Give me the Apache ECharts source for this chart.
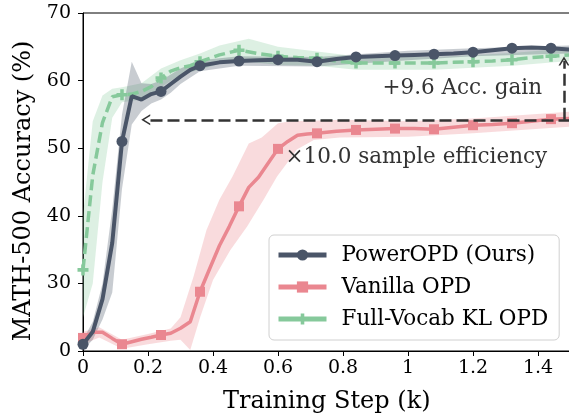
<!DOCTYPE html>
<html>
<head>
<meta charset="utf-8">
<script src="https://cdn.jsdelivr.net/npm/echarts@6/dist/echarts.min.js"></script>
<style>
  html, body { margin: 0; padding: 0; background: #fff; }
  #chart { width: 569px; height: 414px; }
</style>
</head>
<body>
<div id="chart"></div>
<script>
// training steps (k) and accuracies
var powerX = [0, 0.03, 0.06, 0.09, 0.12, 0.15, 0.18, 0.21, 0.24, 0.27, 0.30, 0.33, 0.36, 0.42, 0.48, 0.54, 0.60, 0.66, 0.72, 0.78, 0.84, 0.90, 0.96, 1.02, 1.08, 1.14, 1.20, 1.26, 1.32, 1.38, 1.44, 1.50];
var powerY = [3.0, 8.5, 23.0, 36.0, 51.0, 57.7, 57.2, 58.0, 58.4, 59.5, 60.6, 61.6, 62.2, 62.7, 62.9, 63.0, 63.1, 63.1, 62.8, 63.2, 63.5, 63.6, 63.7, 63.8, 63.9, 64.0, 64.2, 64.5, 64.8, 64.9, 64.8, 64.6];

var vanillaX = [0, 0.03, 0.06, 0.09, 0.12, 0.15, 0.18, 0.21, 0.24, 0.27, 0.30, 0.33, 0.36, 0.39, 0.42, 0.45, 0.48, 0.51, 0.54, 0.57, 0.60, 0.63, 0.66, 0.69, 0.72, 0.78, 0.84, 0.90, 0.96, 1.02, 1.08, 1.14, 1.20, 1.26, 1.32, 1.38, 1.44, 1.50];
var vanillaY = [5.8, 8.3, 8.3, 5.6, 3.0, 4.1, 5.2, 6.1, 7.1, 7.9, 10.1, 13.0, 26.3, 32.2, 35.6, 38.4, 41.4, 44.2, 45.7, 47.8, 49.9, 51.0, 51.9, 52.1, 52.2, 52.5, 52.7, 52.8, 52.9, 52.9, 52.8, 53.1, 53.4, 53.5, 53.7, 54.0, 54.3, 54.4];

var fullX = [0, 0.03, 0.06, 0.09, 0.12, 0.15, 0.18, 0.21, 0.24, 0.27, 0.30, 0.33, 0.36, 0.42, 0.48, 0.54, 0.60, 0.66, 0.72, 0.78, 0.84, 0.90, 0.96, 1.02, 1.08, 1.14, 1.20, 1.26, 1.32, 1.38, 1.44, 1.50];
var fullY = [32.0, 46.0, 53.8, 57.6, 57.9, 58.0, 58.4, 59.1, 60.4, 61.4, 61.9, 62.2, 62.8, 63.8, 64.5, 64.0, 63.6, 63.4, 63.3, 62.9, 62.6, 62.6, 62.6, 62.6, 62.6, 62.7, 62.8, 62.9, 63.1, 63.4, 63.6, 63.8];

// shaded spread around each curve
var powerBandX = [0, 0.03, 0.06, 0.09, 0.12, 0.15, 0.18, 0.21, 0.24, 0.27, 0.30, 0.36, 0.48, 0.72, 1.0, 1.2, 1.5];
var powerLo = [0.3, 5, 14, 26, 44, 53.5, 55.5, 56.6, 57.2, 58.2, 59.5, 61.4, 62.2, 62.1, 63.0, 63.6, 64.0];
var powerHi = [5, 13, 30, 41, 55, 62.8, 59.6, 59.5, 60.0, 60.9, 61.8, 63.0, 63.6, 63.5, 64.4, 64.8, 65.2];

var vanillaHiX = [0, 0.05, 0.12, 0.2, 0.27, 0.30, 0.34, 0.38, 0.42, 0.46, 0.51, 0.55, 0.60, 0.64, 0.8, 1.0, 1.2, 1.5];
var vanillaHi = [8.5, 10.5, 5.0, 7.5, 10.0, 15.0, 31.0, 37.9, 42.4, 45.8, 50.7, 51.6, 53.7, 54.0, 54.2, 54.0, 54.4, 55.4];
var vanillaLoX = [0, 0.05, 0.12, 0.2, 0.27, 0.30, 0.33, 0.361, 0.40, 0.453, 0.505, 0.556, 0.597, 0.628, 0.658, 0.71, 0.79, 1.0, 1.2, 1.5];
var vanillaLo = [3.0, 6.0, 1.0, 3.0, 4.5, 5.0, 0.4, 15.2, 30.5, 34.9, 38.4, 42.4, 45.8, 47.8, 49.8, 51.2, 51.6, 51.7, 52.2, 53.2];

var fullBandX = [0, 0.03, 0.06, 0.09, 0.12, 0.18, 0.24, 0.30, 0.36, 0.42, 0.51, 0.60, 0.72, 0.84, 1.08, 1.32, 1.5];
var fullLo = [15, 30, 45, 54.5, 56.8, 57.2, 59.0, 60.9, 61.6, 62.5, 62.8, 62.3, 62.2, 61.6, 61.6, 62.2, 62.9];
var fullHi = [40, 54, 57.8, 58.8, 59.0, 59.6, 61.8, 63.0, 64.0, 65.2, 66.2, 65.0, 64.3, 63.6, 63.5, 64.1, 64.8];

// y tick labels (axis is broken: 0, then 30..70)
var yTicks = [0, 30, 40, 50, 60, 70];

// annotations
var effArrow = { from: 1.5, to: 0.193, y: 54.2 };
var gainArrow = { x: 1.48, from: 54.2, to: 62.9 };
var gainLabel = { text: '+9.6 Acc. gain', x: 1.167, y: 58.9 };
var effLabel = { text: '\u00d710.0 sample efficiency', x: 0.623, y: 48.7 };

var NAVY = '#4a5568', PINK = '#ea8790', GREEN = '#86c99b';
var FONT = '"DejaVu Serif", serif';
var PLUS = 'path://M3.4,0 H6.6 V3.4 H10 V6.6 H6.6 V10 H3.4 V6.6 H0 V3.4 H3.4 Z';
var CHEVRON = 'path://M0,10 L5,0 L10,10 L8.4,10 L5,3.2 L1.6,10 Z';

// 0..30 squeezed into one tick step, above 30 linear
function tr(y) { return y < 30 ? y / 3 : y - 20; }
function isMark(x) { var k = x / 0.12; return Math.abs(k - Math.round(k)) < 1e-6; }

function lineData(xs, ys) {
  return xs.map(function (x, i) {
    var v = [x, tr(ys[i])];
    return isMark(x) ? v : { value: v, symbol: 'none' };
  });
}

function band(name, loX, lo, hiX, hi, fill) {
  return {
    type: 'custom', name: name, silent: true, z: 1, clip: true,
    data: [[0, 0]],
    renderItem: function (params, api) {
      var pts = [];
      for (var i = 0; i < hiX.length; i++) pts.push(api.coord([hiX[i], tr(hi[i])]));
      for (var j = loX.length - 1; j >= 0; j--) pts.push(api.coord([loX[j], tr(lo[j])]));
      return { type: 'polygon', shape: { points: pts }, style: { fill: fill } };
    }
  };
}

var mychart = echarts.init(document.getElementById('chart'), null, { renderer: 'canvas' });

var option = {
  animation: false,
  backgroundColor: '#fff',
  grid: {
    left: 83, top: 13, width: 487.5, height: 338,
    show: true, borderColor: '#000', borderWidth: 1,
    outerBoundsMode: 'none'
  },
  legend: {
    orient: 'vertical',
    left: 269, top: 235,
    padding: [9, 11, 10, 7],
    itemGap: 10,
    itemWidth: 48, itemHeight: 14,
    backgroundColor: 'rgba(255,255,255,0.85)',
    borderColor: '#d0d0d0', borderWidth: 1, borderRadius: 5,
    lineStyle: { width: 5 },
    textStyle: { fontFamily: FONT, fontSize: 21.5, color: '#000', padding: [0, 0, 0, 10] },
    data: [
      { name: 'PowerOPD (Ours)' },
      { name: 'Vanilla OPD' },
      { name: 'Full-Vocab KL OPD', lineStyle: { type: 'solid' } }
    ]
  },
  xAxis: {
    type: 'value', min: 0, max: 1.5, interval: 0.2,
    name: 'Training Step (k)', nameLocation: 'middle', nameGap: 39,
    nameTextStyle: { fontFamily: FONT, fontSize: 24, color: '#000' },
    axisLine: { lineStyle: { color: '#000', width: 1 } },
    axisTick: { length: 5, lineStyle: { color: '#000' } },
    axisLabel: {
      fontFamily: FONT, fontSize: 19, color: '#000', margin: 8,
      formatter: function (v) { return v > 1.45 ? '' : String(+v.toFixed(1)); }
    },
    splitLine: { show: false }
  },
  yAxis: {
    type: 'value', min: 0, max: 50, interval: 10,
    name: 'MATH-500 Accuracy (%)', nameLocation: 'middle', nameGap: 43,
    nameTextStyle: { fontFamily: FONT, fontSize: 24, color: '#000', padding: [0, 18, 0, 0] },
    axisLine: { show: true, lineStyle: { color: '#000', width: 1 } },
    axisTick: { show: true, length: 5, lineStyle: { color: '#000' } },
    axisLabel: {
      fontFamily: FONT, fontSize: 19, color: '#000', margin: 12,
      formatter: function (v) { return String(yTicks[Math.round(v / 10)]); }
    },
    splitLine: { show: false }
  },
  series: [
    band('vanillaBand', vanillaLoX, vanillaLo, vanillaHiX, vanillaHi, 'rgba(234,135,144,0.3)'),
    band('fullBand', fullBandX, fullLo, fullBandX, fullHi, 'rgba(134,201,155,0.28)'),
    band('powerBand', powerBandX, powerLo, powerBandX, powerHi, 'rgba(74,85,104,0.3)'),
    {
      name: 'Vanilla OPD', type: 'line', z: 3,
      data: lineData(vanillaX, vanillaY),
      symbol: 'rect', symbolSize: 10, showSymbol: true,
      itemStyle: { color: PINK },
      lineStyle: { color: PINK, width: 3.5 }
    },
    {
      name: 'Full-Vocab KL OPD', type: 'line', z: 4,
      data: lineData(fullX, fullY),
      symbol: PLUS, symbolSize: 11, showSymbol: true,
      itemStyle: { color: GREEN },
      lineStyle: { color: GREEN, width: 3.5, type: [11, 5] }
    },
    {
      name: 'PowerOPD (Ours)', type: 'line', z: 5,
      data: lineData(powerX, powerY),
      symbol: 'circle', symbolSize: 11, showSymbol: true,
      itemStyle: { color: NAVY },
      lineStyle: { color: NAVY, width: 4 },
      markLine: {
        silent: true, animation: false,
        symbol: ['none', CHEVRON], symbolSize: [11, 9],
        label: { show: false },
        lineStyle: { color: '#333', width: 2.5, type: [12, 5] },
        itemStyle: { color: '#333' },
        data: [
          [{ coord: [effArrow.from, tr(effArrow.y)] }, { coord: [effArrow.to, tr(effArrow.y)] }],
          [{ coord: [gainArrow.x, tr(gainArrow.from)] }, { coord: [gainArrow.x, tr(gainArrow.to)] }]
        ]
      }
    }
  ]
};

mychart.setOption(option);

var g1 = mychart.convertToPixel({ gridIndex: 0 }, [gainLabel.x, tr(gainLabel.y)]);
var g2 = mychart.convertToPixel({ gridIndex: 0 }, [effLabel.x, tr(effLabel.y)]);
mychart.setOption({
  graphic: [
    { type: 'text', x: g1[0], y: g1[1], z: 10, style: { text: gainLabel.text, font: '21.5px ' + FONT, fill: '#333', align: 'center', verticalAlign: 'middle', textAlign: 'center', textVerticalAlign: 'middle' } },
    { type: 'text', x: g2[0], y: g2[1], z: 10, style: { text: effLabel.text, font: '21.5px ' + FONT, fill: '#333', align: 'left', verticalAlign: 'middle', textAlign: 'left', textVerticalAlign: 'middle' } }
  ]
});
</script>
</body>
</html>
